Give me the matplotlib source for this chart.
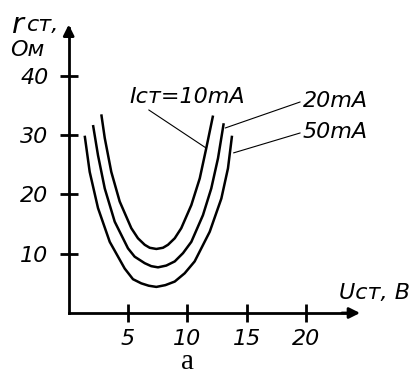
import numpy as np
import matplotlib.pyplot as plt

# readings from the picture: U (V) vs r (Ohm) for three currents
u_10 = [2.75, 3.04, 3.59, 4.30, 5.28, 5.84, 6.41, 6.83, 7.39, 7.95, 8.37, 8.94, 9.49, 10.34, 11.05, 11.60, 12.17]
r_10 = [33.5, 29.5, 23.8, 18.8, 14.3, 12.6, 11.5, 11.0, 10.8, 11.0, 11.5, 12.6, 14.3, 18.2, 22.7, 27.8, 33.3]

u_20 = [2.05, 2.47, 3.04, 3.88, 5.00, 5.56, 6.41, 6.96, 7.53, 8.23, 8.94, 9.64, 10.34, 11.32, 12.02, 12.59, 13.07]
r_20 = [31.7, 26.6, 21.0, 15.4, 10.9, 9.5, 8.4, 7.9, 7.7, 8.0, 8.7, 10.1, 12.0, 16.5, 21.0, 26.1, 32.0]

u_50 = [1.35, 1.77, 2.47, 3.46, 4.72, 5.42, 6.12, 6.75, 7.39, 8.15, 8.94, 9.78, 10.62, 11.89, 12.87, 13.43, 13.77]
r_50 = [29.9, 23.8, 17.7, 12.0, 7.5, 5.7, 5.0, 4.6, 4.4, 4.7, 5.3, 6.7, 8.7, 13.7, 19.3, 24.4, 29.9]

x_ticks = [5, 10, 15, 20]
y_ticks = [10, 20, 30, 40]

W, H = 417, 378
fig = plt.figure(figsize=(W / 100, H / 100), dpi=100)
ax = fig.add_axes([0, 0, 1, 1])

# pixel scale of the original drawing
x0, sx = 68.7, 11.86
y0, sy = 313.0, 5.93
ax.set_xlim(-x0 / sx, (W - x0) / sx)
ax.set_ylim(-(H - y0) / sy, y0 / sy)

lw = 1.8
for u, r in [(u_10, r_10), (u_20, r_20), (u_50, r_50)]:
    ax.plot(u, r, color='k', lw=lw, solid_capstyle='butt', solid_joinstyle='round')

# axes through the origin with arrows
x_end, y_end = 24.8, 49.1
for s in ['top', 'right']:
    ax.spines[s].set_visible(False)
ax.spines['left'].set_position(('data', 0))
ax.spines['bottom'].set_position(('data', 0))
ax.spines['left'].set_bounds(0, y_end - 1)
ax.spines['bottom'].set_bounds(0, x_end - 1)
for s in ['left', 'bottom']:
    ax.spines[s].set_linewidth(2)
ax.annotate('', xy=(0, y_end), xytext=(0, y_end - 3),
            arrowprops=dict(arrowstyle='-|>', color='k', lw=2, mutation_scale=16))
ax.annotate('', xy=(x_end, 0), xytext=(x_end - 2, 0),
            arrowprops=dict(arrowstyle='-|>', color='k', lw=2, mutation_scale=16))

tick_font = dict(family='DejaVu Sans', style='italic', size=16)
ax.set_xticks(x_ticks)
ax.set_xticklabels([str(t) for t in x_ticks], **tick_font)
ax.set_yticks(y_ticks)
ax.set_yticklabels([str(t) for t in y_ticks], **tick_font)
ax.tick_params(axis='both', direction='inout', length=13, width=2)
ax.tick_params(axis='x', pad=5)
ax.tick_params(axis='y', pad=8)

lab = dict(family='DejaVu Sans', style='italic', color='k')
fig.text(12 / W, 1 - 33 / H, 'r', fontsize=21, ha='left', va='baseline', **lab)
fig.text(27 / W, 1 - 31 / H, 'ст,', fontsize=16, ha='left', va='baseline', **lab)
fig.text(10 / W, 1 - 50 / H, 'Ом', fontsize=16, ha='left', va='center', **lab)
fig.text(339 / W, 1 - 293 / H, 'Uст, В', fontsize=16, ha='left', va='center', **lab)
fig.text(188 / W, 1 - 362 / H, 'а', fontsize=21, family='Liberation Serif',
         ha='center', va='center')

# current labels with leader lines
line = dict(arrowstyle='-', color='k', lw=0.8, shrinkA=0, shrinkB=0)
ax.annotate('Iст=10mA', xy=(u_10[15], r_10[15]), xytext=(5.08, 36.4),
            ha='left', va='center', fontsize=16, **lab,
            arrowprops=dict(relpos=(0.135, 0), **line))
ax.annotate('20mA', xy=(13.2, 31.2), xytext=(19.75, 35.75),
            ha='left', va='center', fontsize=16, **lab,
            arrowprops=dict(relpos=(0, 0.5), **line))
ax.annotate('50mA', xy=(13.9, 27.0), xytext=(19.75, 30.5),
            ha='left', va='center', fontsize=16, **lab,
            arrowprops=dict(relpos=(0, 0.5), **line))

fig.savefig('out.png', dpi=100)
